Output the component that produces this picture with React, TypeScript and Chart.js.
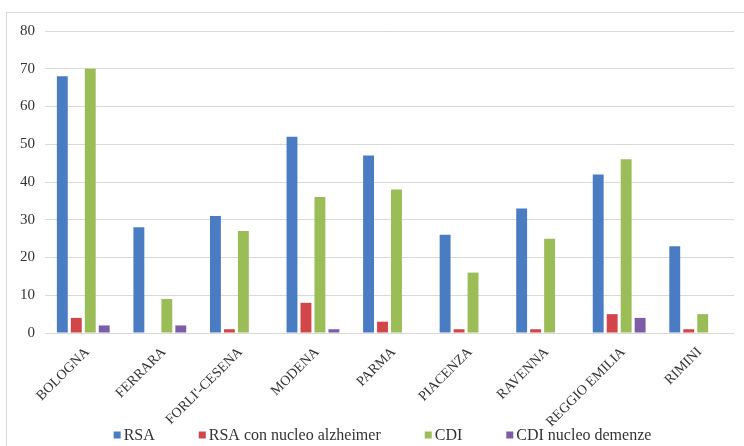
import React, { useEffect, useRef } from "react";
import { Chart, registerables } from "chart.js";

Chart.register(...registerables);

const categories = [
  "BOLOGNA",
  "FERRARA",
  "FORLI'-CESENA",
  "MODENA",
  "PARMA",
  "PIACENZA",
  "RAVENNA",
  "REGGIO EMILIA",
  "RIMINI",
];
const rsa = [68, 28, 31, 52, 47, 26, 33, 42, 23];
const rsaAlzheimer = [4, 0, 1, 8, 3, 1, 1, 5, 1];
const cdi = [70, 9, 27, 36, 38, 16, 25, 46, 5];
const cdiDemenze = [2, 2, 0, 1, 0, 0, 0, 4, 0];
const yTicks = [0, 10, 20, 30, 40, 50, 60, 70, 80];

const FONT = "'Liberation Serif', 'Times New Roman', serif";
const TEXT = "#333";

const legendPlugin = {
  id: "customLegend",
  afterDraw(chart: any) {
    const ctx = chart.ctx;
    const items = chart.data.datasets.map((d: any) => ({ text: d.label, color: d.backgroundColor }));
    ctx.save();
    ctx.font = `16px ${FONT}`;
    ctx.textBaseline = "middle";
    ctx.textAlign = "left";
    const box = 7;
    const gapBoxText = 3;
    const gapItems = 44;
    const widths = items.map((it: any) => box + gapBoxText + ctx.measureText(it.text).width);
    const total = widths.reduce((a: number, b: number) => a + b, 0) + gapItems * (items.length - 1);
    const cx = 382.5;
    const y = 435;
    let x = cx - total / 2;
    items.forEach((it: any, i: number) => {
      ctx.fillStyle = it.color;
      ctx.fillRect(x, y - box / 2, box, box);
      ctx.fillStyle = TEXT;
      ctx.fillText(it.text, x + box + gapBoxText, y + 1);
      x += widths[i] + gapItems;
    });
    ctx.restore();
  },
};

export default function App() {
  const ref = useRef<HTMLCanvasElement | null>(null);

  useEffect(() => {
    if (!ref.current) return;
    const chart = new Chart(ref.current, {
      type: "bar",
      data: {
        labels: categories,
        datasets: [
          { label: "RSA", data: rsa, backgroundColor: "#4a7cc4" },
          { label: "RSA con nucleo alzheimer", data: rsaAlzheimer, backgroundColor: "#d2464a" },
          { label: "CDI", data: cdi, backgroundColor: "#9bbd57" },
          { label: "CDI nucleo demenze", data: cdiDemenze, backgroundColor: "#7d5da7" },
        ],
      },
      plugins: [legendPlugin],
      options: {
        responsive: false,
        animation: false,
        layout: { padding: { top: 31, right: 10, left: 0, bottom: 0 } },
        datasets: {
          bar: { categoryPercentage: 0.73, barPercentage: 0.78 },
        },
        plugins: {
          tooltip: { enabled: false },
          legend: { display: false },
        },
        scales: {
          x: {
            grid: { display: false },
            border: { display: false },
            ticks: {
              minRotation: 45,
              maxRotation: 45,
              autoSkip: false,
              color: TEXT,
              font: { family: FONT, size: 14 },
              padding: 3,
              labelOffset: 4,
            },
            afterFit: (s: any) => {
              s.height = 113;
            },
          },
          y: {
            min: 0,
            max: 80,
            afterBuildTicks: (s: any) => {
              s.ticks = yTicks.map((v) => ({ value: v }));
            },
            grid: { color: "#d9d9d9", drawTicks: false },
            border: { display: false },
            ticks: {
              color: TEXT,
              font: { family: FONT, size: 15 },
              padding: 10,
            },
            afterFit: (s: any) => {
              s.width = 45;
            },
          },
        },
      },
    });
    return () => chart.destroy();
  }, []);

  return (
    <div style={{ position: "fixed", left: 0, top: 0, width: 744, height: 446, overflow: "hidden", background: "#fff" }}>
      <div
        style={{
          position: "absolute",
          left: 6,
          top: 12,
          width: 800,
          height: 500,
          border: "1px solid #d9d9d9",
          boxSizing: "border-box",
        }}
      />
      <canvas
        ref={ref}
        width={744}
        height={446}
        style={{ position: "absolute", left: 0, top: 0, display: "block" }}
      />
    </div>
  );
}
